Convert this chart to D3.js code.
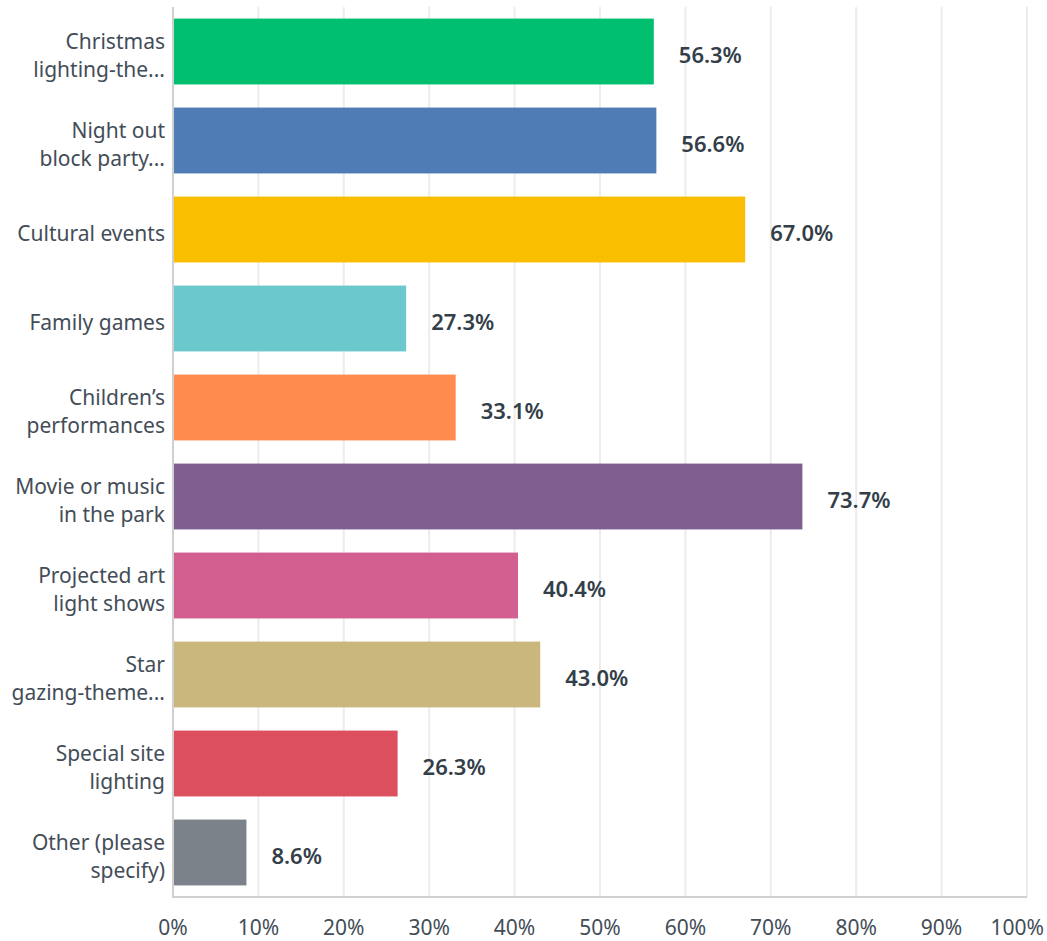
<!DOCTYPE html>
<html><head><meta charset="utf-8">
<script src="https://cdn.jsdelivr.net/npm/d3@7"></script>
<style>body{margin:0;background:#fff}</style>
</head><body>
<svg id="chart" width="1047" height="941"></svg>
<script>
const categories = [
  ["Christmas", "lighting-the..."],
  ["Night out", "block party..."],
  ["Cultural events"],
  ["Family games"],
  ["Children\u2019s", "performances"],
  ["Movie or music", "in the park"],
  ["Projected art", "light shows"],
  ["Star", "gazing-theme..."],
  ["Special site", "lighting"],
  ["Other (please", "specify)"]
];
const values = [56.3, 56.6, 67.0, 27.3, 33.1, 73.7, 40.4, 43.0, 26.3, 8.6];
const colors = ["#00bf6f","#507cb6","#f9be00","#6bc8cd","#ff8b4f","#7f5f90","#d25f90","#c9b77d","#dc4f5e","#7b8289"];
const tickValues = [0,10,20,30,40,50,60,70,80,90,100];
const tickLabels = ["0%","10%","20%","30%","40%","50%","60%","70%","80%","90%","100%"];

const svg = d3.select("#chart");
const m = {left:173, right:1027, top:7, bottom:897};
const x = d3.scaleLinear().domain([0,100]).range([m.left, m.right]);
const y = d3.scaleBand().domain(d3.range(values.length)).range([m.top, m.bottom]).paddingInner(0.26).paddingOuter(0.13);
const font = "'Noto Sans', sans-serif";

// gridlines
svg.append("g").selectAll("line").data(tickValues.slice(1)).join("line")
  .attr("x1", d=>x(d)).attr("x2", d=>x(d)).attr("y1", m.top).attr("y2", m.bottom)
  .attr("stroke", "#ececec").attr("stroke-width", 2);

// bars
svg.append("g").selectAll("rect").data(values).join("rect")
  .attr("x", x(0)).attr("y", (d,i)=>y(i)).attr("width", d=>x(d)-x(0)).attr("height", y.bandwidth())
  .attr("fill", (d,i)=>colors[i]);

// axis lines
svg.append("line").attr("x1", m.left).attr("x2", m.left).attr("y1", m.top).attr("y2", m.bottom+1)
  .attr("stroke", "#d0d0d0").attr("stroke-width", 2);
svg.append("line").attr("x1", m.left).attr("x2", m.right).attr("y1", m.bottom).attr("y2", m.bottom)
  .attr("stroke", "#d0d0d0").attr("stroke-width", 2);

// value labels
svg.append("g").selectAll("text").data(values).join("text")
  .attr("x", d=>x(d)+25).attr("y", (d,i)=>y(i)+y.bandwidth()/2+11)
  .attr("font-family", font).attr("font-weight", 600).attr("font-size", 22)
  .attr("fill", "#333e48").text(d=>d.toFixed(1)+"%");

// category labels
const cl = svg.append("g").selectAll("text").data(categories).join("text")
  .attr("text-anchor", "end").attr("font-family", font).attr("font-size", 21).attr("fill", "#434d57")
  .attr("y", (d,i)=>y(i)+y.bandwidth()/2);
cl.each(function(d){
  const t = d3.select(this);
  const n = d.length;
  d.forEach((line, j) => {
    t.append("tspan").attr("x", 165).attr("dy", j===0 ? (n===1 ? 11 : -3) : 28).text(line);
  });
});

// x tick labels
const tl = svg.append("g").selectAll("text").data(tickValues).join("text")
  .attr("x", d=>x(d)).attr("y", 935).attr("text-anchor", "middle")
  .attr("font-family", font).attr("font-size", 21).attr("fill", "#434d57")
  .text((d,i)=>tickLabels[i]);
tl.each(function(){
  const b = this.getBBox();
  if (b.x + b.width > 1044) {
    d3.select(this).attr("x", +d3.select(this).attr("x") - (b.x + b.width - 1044));
  }
});
</script>
</body></html>
